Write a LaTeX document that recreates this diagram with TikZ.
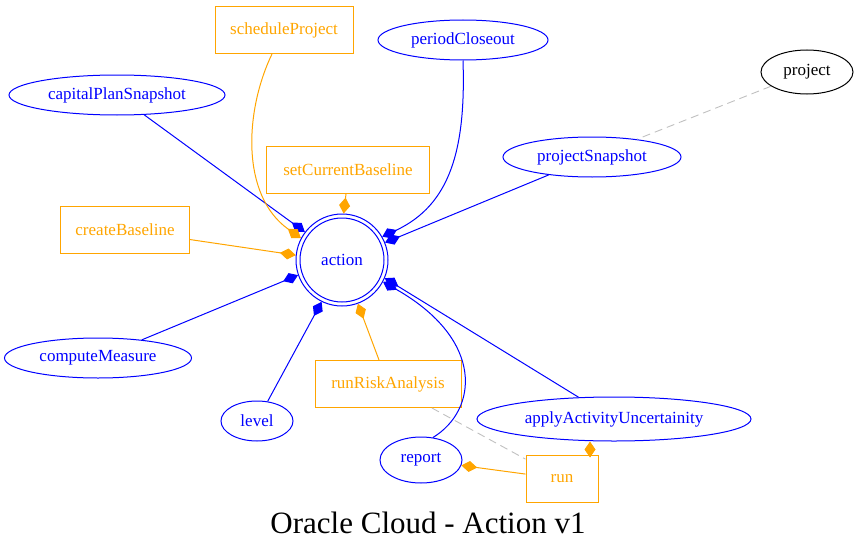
\documentclass[tikz,border=0pt]{standalone}
\usepackage{fontspec}
\setmainfont{Liberation Serif}
\usetikzlibrary{arrows.meta,shapes.geometric}
\definecolor{gvblue}{HTML}{0000FF}
\definecolor{gvorange}{HTML}{FFA500}
\definecolor{gvgray}{HTML}{C0C0C0}
\tikzset{
  lbl/.style={font=\fontsize{17}{20}\selectfont},
  bell/.style={lbl,ellipse,draw=gvblue,text=gvblue,inner sep=0pt,line width=1pt},
  kell/.style={lbl,ellipse,draw=black,text=black,inner sep=0pt,line width=1pt},
  obox/.style={lbl,rectangle,draw=gvorange,text=gvorange,inner sep=0pt,minimum height=47pt,line width=1pt},
  bedge/.style={draw=gvblue,line width=1pt,-{Diamond[length=16pt,width=11pt]}},
  oedge/.style={draw=gvorange,line width=1pt,-{Diamond[length=16pt,width=11pt]}},
  gedge/.style={draw=gvgray,line width=0.9pt,dash pattern=on 8pt off 5pt},
}
\begin{document}
\begin{tikzpicture}[x=1pt,y=-1pt]
\useasboundingbox (0,0) rectangle (859,551);
% nodes
\node[circle,draw=gvblue,text=gvblue,lbl,minimum size=92pt,inner sep=0pt,line width=1pt] (action) at (342,260) {action};
\draw[gvblue,line width=1pt] (action.center) circle[radius=42pt];
\node[obox,minimum width=138pt] (sched) at (284,30) {scheduleProject};
\node[bell,minimum width=170pt,minimum height=40pt] (period) at (463,40) {periodCloseout};
\node[kell,minimum width=92pt,minimum height=44pt] (project) at (807,72) {project};
\node[bell,minimum width=216pt,minimum height=40pt] (cap) at (117,95) {capitalPlanSnapshot};
\node[obox,minimum width=163pt] (setcb) at (348,170) {setCurrentBaseline};
\node[bell,minimum width=178pt,minimum height=40pt] (psnap) at (592,157) {projectSnapshot};
\node[obox,minimum width=129pt] (createb) at (125,230) {createBaseline};
\node[bell,minimum width=187pt,minimum height=40pt] (compm) at (98,358) {computeMeasure};
\node[bell,minimum width=72pt,minimum height=40pt] (level) at (257,421) {level};
\node[obox,minimum width=146pt] (rra) at (388,384) {runRiskAnalysis};
\node[bell,minimum width=274pt,minimum height=44pt] (aau) at (614,419) {applyActivityUncertainity};
\node[bell,minimum width=82pt,minimum height=46pt] (report) at (421,460) {report};
\node[obox,minimum width=72pt] (run) at (562,479) {run};
\node[font=\fontsize{31}{36}\selectfont] (title) at (428,523) {Oracle Cloud - Action v1};
% edges
\draw[bedge] (cap) -- (action.143);
\draw[oedge] ([xshift=-12pt]sched.south) .. controls (245,110) and (240,195) .. (action.152);
\draw[bedge] (period.south) .. controls (466,150) and (450,205) .. (action.30);
\draw[bedge] (psnap) -- (action.22);
\draw[oedge] ([xshift=-2pt]setcb.south) -- (action.88);
\draw[oedge] (createb) -- (action.174);
\draw[bedge] (compm) -- (action.199);
\draw[bedge] (level) -- (action.244);
\draw[oedge] (rra) -- (action.290);
\draw[bedge] (report.62) .. controls (478,410) and (485,340) .. (action.332);
\draw[bedge] (aau) -- (action.337);
\draw[oedge] (run) -- (report);
\draw[oedge] ([xshift=28pt]run.north) -- ([xshift=-24pt]aau.south);
\draw[gedge] (rra) -- (run);
\draw[gedge] (project) -- (psnap);
\end{tikzpicture}
\end{document}
